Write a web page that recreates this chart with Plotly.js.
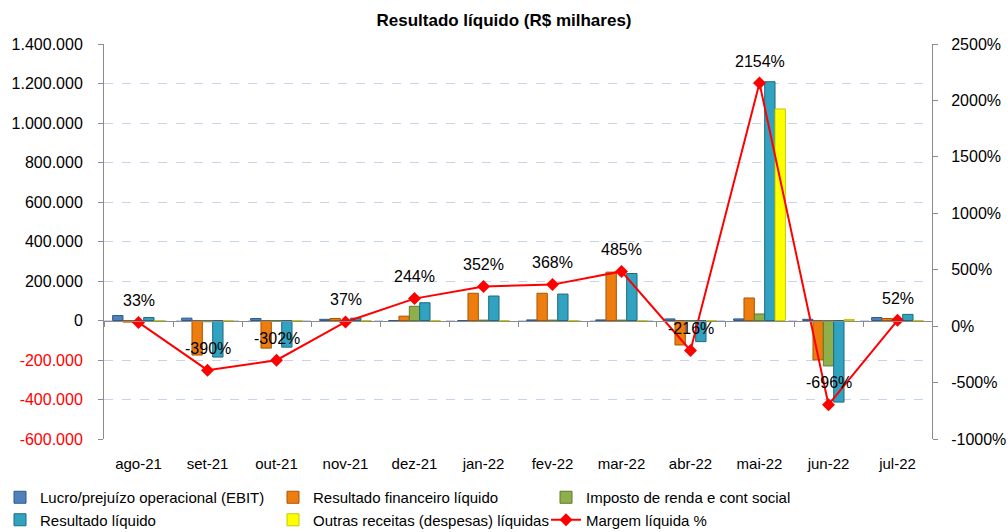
<!DOCTYPE html>
<html>
<head>
<meta charset="utf-8">
<script src="https://cdn.plot.ly/plotly-3.0.1.min.js"></script>
<style>html,body{margin:0;padding:0;background:#fff;}#chart{width:1008px;height:532px;}</style>
</head>
<body>
<div id="chart"></div>
<script>
const categories = ['ago-21','set-21','out-21','nov-21','dez-21','jan-22','fev-22','mar-22','abr-22','mai-22','jun-22','jul-22'];
const ebit      = [25000, 12000, 10000, 6000, -3000, -5000, 3000, 3000, 8000, 8000, 6000, 15000];
const financeiro= [-8000, -175000, -140000, 10000, 22000, 138000, 138000, 245000, -124000, 114000, -200000, 10000];
const imposto   = [0, -6000, -3000, 0, 72000, 2000, 2000, 2000, -3000, 33000, -230000, 0];
const resultado = [15000, -185000, -135000, 12000, 90000, 124000, 134000, 238000, -107000, 1209000, -413000, 31000];
const outras    = [0, 0, 0, 0, 0, 0, 0, 0, 0, 1071000, 5000, 0];
const margem    = [33, -390, -302, 37, 244, 352, 368, 485, -216, 2154, -696, 52];
const leftTicks = [-600000,-400000,-200000,0,200000,400000,600000,800000,1000000,1200000,1400000];
const rightTicks = [-1000,-500,0,500,1000,1500,2000,2500];

const FONT = '"Liberation Sans", Arial, sans-serif';
function fmt(v){
  const s = Math.abs(v).toString().replace(/\B(?=(\d{3})+(?!\d))/g,'.');
  return v < 0 ? '<span style="fill:#FF0000">-' + s + '</span>' : s;
}
const leftText = leftTicks.map(fmt);
const rightText = rightTicks.map(v => v + '%');

function barTrace(name, y, fill, line){
  return {type:'bar', name:name, x:categories, y:y, xaxis:'x', yaxis:'y',
    marker:{color:fill, line:{color:line, width:1}}, hoverinfo:'skip'};
}
const traces = [
  barTrace('Lucro/prejuízo operacional (EBIT)', ebit, '#4F81BD', '#2E5A8C'),
  barTrace('Resultado financeiro líquido', financeiro, '#EE7D10', '#A85400'),
  barTrace('Imposto de renda e cont social', imposto, '#8EAF4A', '#5F7A2C'),
  barTrace('Resultado líquido', resultado, '#31A3C0', '#1E6A7E'),
  barTrace('Outras receitas (despesas) líquidas', outras, '#FFFF00', '#C8C800'),
  {type:'scatter', mode:'lines+markers', name:'Margem líquida %', x:categories, y:margem,
   xaxis:'x2', yaxis:'y2', line:{color:'#FF0000', width:2},
   marker:{symbol:'diamond', size:10, color:'#FF0000'}, hoverinfo:'skip'}
];

const annotations = categories.map((c,i)=>({
  x:c, y:margem[i], xref:'x2', yref:'y2', text:margem[i]+'%', showarrow:false,
  yshift:22, font:{family:FONT, size:16, color:'#000'}
}));

const layout = {
  width:1008, height:532,
  margin:{l:104, r:76, t:44, b:93},
  paper_bgcolor:'#fff', plot_bgcolor:'#fff',
  font:{family:FONT, size:15, color:'#000'},
  title:{text:'<b>Resultado líquido (R$ milhares)</b>', x:0.5, xref:'container', xanchor:'center',
         y:1-20/532, yref:'container', yanchor:'middle', font:{family:FONT, size:17, color:'#000'}},
  barmode:'group', bargap:0.25, bargroupgap:0,
  xaxis:{type:'category', categoryarray:categories, range:[-0.5,11.5], showgrid:false, showline:false,
         zeroline:false, ticks:'', ticklabelstandoff:14, tickfont:{family:FONT, size:15}},
  xaxis2:{type:'category', categoryarray:categories, range:[-0.5,11.5], overlaying:'x', anchor:'free',
          position:0.3, showline:true, linecolor:'#8C8C8C', linewidth:1, showgrid:false, zeroline:false,
          ticks:'outside', tickson:'boundaries', ticklen:5, tickcolor:'#8C8C8C', showticklabels:false},
  yaxis:{range:[-600000,1400000], tickvals:leftTicks, ticktext:leftText, showgrid:true,
         gridcolor:'#C6D4EE', griddash:'dash', gridwidth:1, zeroline:false, showline:true,
         linecolor:'#8C8C8C', ticks:'outside', ticklen:5, tickcolor:'#8C8C8C', ticklabelstandoff:12,
         tickfont:{family:FONT, size:16}},
  yaxis2:{range:[-1000,2500], tickvals:rightTicks, ticktext:rightText, overlaying:'y', side:'right',
          anchor:'x2', showgrid:false, zeroline:false, showline:true, linecolor:'#8C8C8C',
          ticks:'outside', ticklen:5, tickcolor:'#8C8C8C', ticklabelstandoff:10,
          tickfont:{family:FONT, size:16}},
  showlegend:true,
  legend:{orientation:'h', x:-6/1008, xref:'container', xanchor:'left', y:1-481/532, yref:'container',
          yanchor:'top', entrywidth:228, entrywidthmode:'pixels', font:{family:FONT, size:15},
          itemwidth:30, tracegroupgap:0, traceorder:'normal'},
  annotations:annotations
};

Plotly.newPlot('chart', traces, layout, {displayModeBar:false, staticPlot:true});
</script>
</body>
</html>
